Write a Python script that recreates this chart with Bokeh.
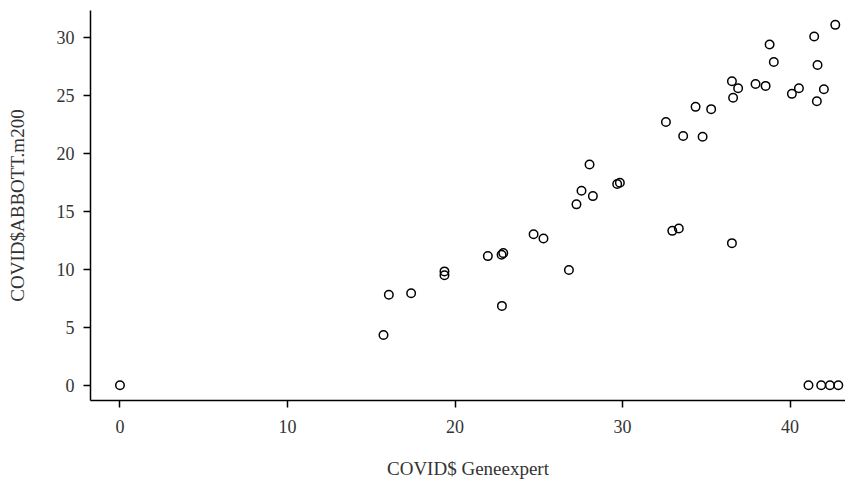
from bokeh.plotting import figure
from bokeh.models import Range1d, FixedTicker
from bokeh.embed import file_html
from bokeh.resources import INLINE

geneexpert = [0.0, 15.73, 16.05, 17.38, 19.37, 19.37, 21.96, 22.78, 22.88, 22.8,
              24.69, 25.28, 26.8, 27.25, 27.55, 28.23, 28.03, 29.68, 29.84, 32.97,
              33.36, 36.53, 32.59, 33.62, 34.78, 34.36, 35.29, 36.53, 36.9, 36.6,
              37.94, 38.54, 38.78, 39.03, 40.11, 40.53, 41.44, 41.64, 41.6, 42.02,
              42.7, 41.1, 41.86, 42.38, 42.88]
abbott_m200 = [0.0, 4.33, 7.82, 7.94, 9.83, 9.49, 11.15, 11.26, 11.41, 6.85,
               13.04, 12.67, 9.95, 15.62, 16.79, 16.33, 19.06, 17.37, 17.48, 13.33,
               13.53, 12.27, 22.73, 21.52, 21.46, 24.04, 23.84, 26.25, 25.65, 24.82,
               26.02, 25.85, 29.43, 27.91, 25.16, 25.65, 30.12, 27.65, 24.53, 25.56,
               31.12, 0.0, 0.0, 0.0, 0.0]
x_ticks = [0, 10, 20, 30, 40]
y_ticks = [0, 5, 10, 15, 20, 25, 30]

p = figure(width=845, height=481, output_backend="svg", toolbar_location=None,
           x_range=Range1d(-1.76, 43.31), y_range=Range1d(-1.32, 32.36),
           min_border_left=90, min_border_right=0, min_border_top=10, min_border_bottom=79)
p.outline_line_color = None
p.xgrid.visible = False
p.ygrid.visible = False
p.background_fill_color = "white"
p.border_fill_color = "white"

p.scatter(geneexpert, abbott_m200, marker="circle", size=8.5, fill_color=None,
          line_color="black", line_width=1.5)

FONT = "Liberation Serif"
for ax in (p.xaxis[0], p.yaxis[0]):
    ax.axis_line_width = 1.5
    ax.axis_line_color = "black"
    ax.major_tick_line_width = 1.5
    ax.major_tick_line_color = "black"
    ax.major_tick_out = 7
    ax.major_tick_in = 0
    ax.minor_tick_line_color = None
    ax.major_label_text_font = FONT
    ax.major_label_text_font_size = "18px"
    ax.major_label_text_color = "#333333"
    ax.axis_label_text_font = FONT
    ax.axis_label_text_font_size = "19px"
    ax.axis_label_text_font_style = "normal"
    ax.axis_label_text_color = "#333333"

p.xaxis.ticker = FixedTicker(ticks=x_ticks)
p.yaxis.ticker = FixedTicker(ticks=y_ticks)
p.xaxis.axis_label = "COVID$ Geneexpert"
p.yaxis.axis_label = "COVID$ABBOTT.m200"
p.xaxis.major_label_standoff = 12
p.xaxis.axis_label_standoff = 22
p.yaxis.major_label_standoff = 9
p.yaxis.axis_label_standoff = 26

open("out.html", "w").write(file_html(p, INLINE))
